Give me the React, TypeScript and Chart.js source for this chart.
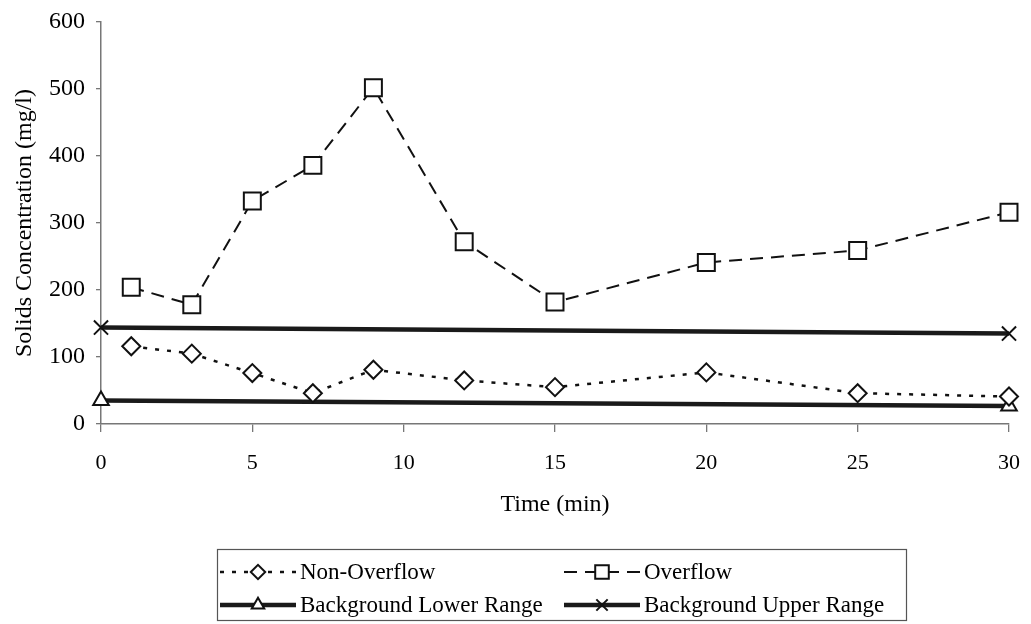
import React, { useEffect, useRef } from 'react';
import { Chart, registerables } from 'chart.js';

Chart.register(...registerables);

// ---- Data ----
const timeMin = [1, 3, 5, 7, 9, 12, 15, 20, 25, 30];
const nonOverflow = [116, 105, 76, 46, 81, 65, 55, 77, 46, 41];
const overflow = [204, 178, 333, 386, 502, 272, 182, 241, 259, 316];
const backgroundTimes = [0, 30];
const backgroundLower = [35, 27];
const backgroundUpper = [144, 135];
const seriesNames = ['Non-Overflow', 'Overflow', 'Background Lower Range', 'Background Upper Range'];
const xTicks = [0, 5, 10, 15, 20, 25, 30];
const yTicks = [0, 100, 200, 300, 400, 500, 600];

const FONT = '"Liberation Serif", "Times New Roman", serif';
const INK = '#111111';

function toPoints(xs: number[], ys: number[]) {
  return xs.map((x, i) => ({ x, y: ys[i] }));
}

function drawMarker(ctx: CanvasRenderingContext2D, style: string, x: number, y: number, r: number) {
  ctx.save();
  ctx.setLineDash([]);
  ctx.lineWidth = 2;
  ctx.strokeStyle = INK;
  ctx.fillStyle = '#ffffff';
  ctx.beginPath();
  if (style === 'rect') {
    const s = Math.SQRT1_2 * r;
    ctx.rect(x - s, y - s, 2 * s, 2 * s);
    ctx.fill();
    ctx.stroke();
  } else if (style === 'rectRot') {
    ctx.moveTo(x - r, y);
    ctx.lineTo(x, y - r);
    ctx.lineTo(x + r, y);
    ctx.lineTo(x, y + r);
    ctx.closePath();
    ctx.fill();
    ctx.stroke();
  } else if (style === 'triangle') {
    const h = r * Math.sqrt(3) / 2;
    ctx.moveTo(x, y - r);
    ctx.lineTo(x + h, y + r / 2);
    ctx.lineTo(x - h, y + r / 2);
    ctx.closePath();
    ctx.fill();
    ctx.stroke();
  } else if (style === 'crossRot') {
    const o = Math.SQRT1_2 * r;
    ctx.moveTo(x - o, y - o);
    ctx.lineTo(x + o, y + o);
    ctx.moveTo(x + o, y - o);
    ctx.lineTo(x - o, y + o);
    ctx.stroke();
  }
  ctx.restore();
}

const legendPlugin = {
  id: 'boxLegend',
  afterDraw(chart: any) {
    const ctx: CanvasRenderingContext2D = chart.ctx;
    const box = { left: 209, right: 898, top: 541, bottom: 612 };
    ctx.save();
    ctx.strokeStyle = '#555555';
    ctx.lineWidth = 1.2;
    ctx.strokeRect(box.left + 0.5, box.top + 0.5, box.right - box.left, box.bottom - box.top);
    const rows = [564, 597];
    const cols = [212, 556];
    const sampleW = 76;
    chart.data.datasets.forEach((ds: any, i: number) => {
      const row = rows[Math.floor(i / 2)];
      const x0 = cols[i % 2];
      ctx.save();
      ctx.strokeStyle = ds.borderColor;
      ctx.lineWidth = ds.borderWidth;
      ctx.setLineDash(ds.borderDash || []);
      ctx.beginPath();
      ctx.moveTo(x0, row);
      ctx.lineTo(x0 + sampleW, row);
      ctx.stroke();
      ctx.restore();
      drawMarker(ctx, ds.pointStyle, x0 + sampleW / 2, row, ds.pointRadius * 0.8);
      ctx.fillStyle = '#000000';
      ctx.font = `23px ${FONT}`;
      ctx.textBaseline = 'middle';
      ctx.textAlign = 'left';
      ctx.fillText(ds.label, x0 + sampleW + 4, row + 1);
    });
    ctx.restore();
  },
};

export default function App() {
  const canvasRef = useRef<HTMLCanvasElement>(null);

  useEffect(() => {
    const canvas = canvasRef.current;
    if (!canvas) return;
    const chart = new Chart(canvas, {
      type: 'line',
      data: {
        datasets: [
          {
            label: seriesNames[0],
            data: toPoints(timeMin, nonOverflow),
            borderColor: INK,
            borderWidth: 2.5,
            borderDash: [4, 8],
            pointStyle: 'rectRot',
            pointRadius: 9,
            pointBorderWidth: 2,
            pointBackgroundColor: '#ffffff',
            pointBorderColor: INK,
            clip: false as any,
          },
          {
            label: seriesNames[1],
            data: toPoints(timeMin, overflow),
            borderColor: INK,
            borderWidth: 2,
            borderDash: [13, 8],
            pointStyle: 'rect',
            pointRadius: 12,
            pointBorderWidth: 2,
            pointBackgroundColor: '#ffffff',
            pointBorderColor: INK,
            clip: false as any,
          },
          {
            label: seriesNames[2],
            data: toPoints(backgroundTimes, backgroundLower),
            borderColor: '#1a1a1a',
            borderWidth: 4.5,
            pointStyle: 'triangle',
            pointRadius: 9,
            pointBorderWidth: 2,
            pointBackgroundColor: '#ffffff',
            pointBorderColor: INK,
            clip: false as any,
          },
          {
            label: seriesNames[3],
            data: toPoints(backgroundTimes, backgroundUpper),
            borderColor: '#1a1a1a',
            borderWidth: 4.5,
            pointStyle: 'crossRot',
            pointRadius: 10,
            pointBorderWidth: 2,
            pointBackgroundColor: '#ffffff',
            pointBorderColor: INK,
            clip: false as any,
          },
        ],
      },
      options: {
        animation: false,
        responsive: true,
        maintainAspectRatio: false,
        layout: { padding: { top: 11, right: 9, bottom: 103, left: 0 } },
        plugins: {
          legend: { display: false },
          tooltip: { enabled: false },
        },
        elements: { line: { tension: 0 } },
        scales: {
          x: {
            type: 'linear',
            min: 0,
            max: 30,
            afterBuildTicks: (scale: any) => {
              scale.ticks = xTicks.map((v) => ({ value: v }));
            },
            afterFit: (scale: any) => {
              scale.height = 95;
              scale.paddingLeft = 0;
              scale.paddingRight = 0;
            },
            grid: {
              display: true,
              drawOnChartArea: false,
              drawTicks: true,
              tickLength: 8,
              color: '#777777',
              lineWidth: 1.3,
            },
            border: { display: true, color: '#777777', width: 1.5 },
            ticks: {
              padding: 18,
              color: '#000000',
              font: { family: FONT, size: 22 },
              maxRotation: 0,
            },
            title: {
              display: true,
              text: 'Time (min)',
              color: '#000000',
              font: { family: FONT, size: 24 },
              padding: { top: 0, bottom: 0 },
            },
          },
          y: {
            type: 'linear',
            min: 0,
            max: 600,
            afterBuildTicks: (scale: any) => {
              scale.ticks = yTicks.map((v) => ({ value: v }));
            },
            afterFit: (scale: any) => {
              scale.width = 93;
              scale.paddingTop = 0;
              scale.paddingBottom = 0;
            },
            grid: {
              display: true,
              drawOnChartArea: false,
              drawTicks: true,
              tickLength: 5,
              color: '#777777',
              lineWidth: 1.3,
            },
            border: { display: true, color: '#777777', width: 1.5 },
            ticks: {
              padding: 11,
              color: '#000000',
              font: { family: FONT, size: 24 },
            },
            title: {
              display: true,
              text: 'Solids Concentration (mg/l)',
              color: '#000000',
              font: { family: FONT, size: 24 },
              padding: { top: 2, bottom: 0 },
            },
          },
        },
      },
      plugins: [legendPlugin],
    });
    return () => chart.destroy();
  }, []);

  return (
    <div style={{ position: 'relative', width: 1015, height: 614 }}>
      <canvas ref={canvasRef} />
    </div>
  );
}
